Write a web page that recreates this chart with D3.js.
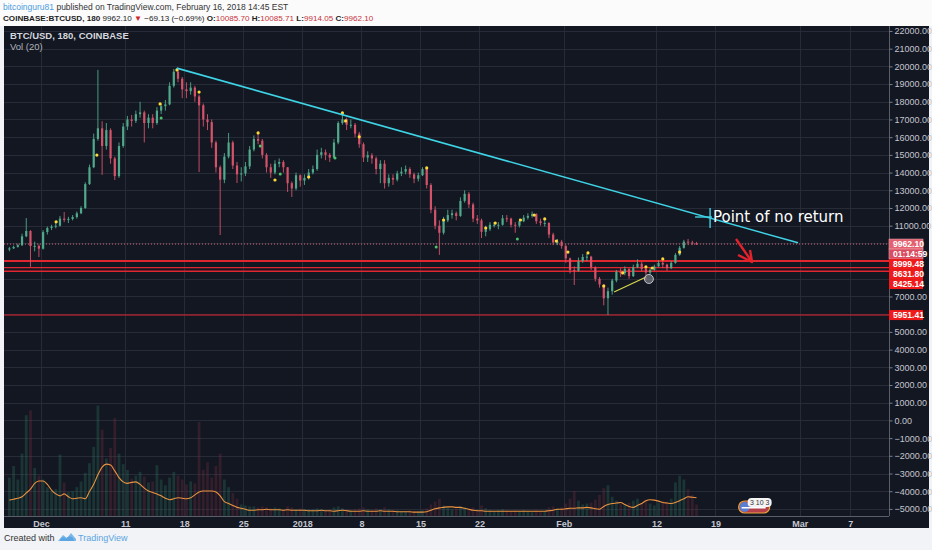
<!DOCTYPE html>
<html>
<head>
<meta charset="utf-8">
<script src="https://cdn.jsdelivr.net/npm/d3@7"></script>
<style>
body { margin:0; background:#f1f3f6; }
svg { display:block; font-family:"Liberation Sans", Arial, sans-serif; }
</style>
</head>
<body>
<svg class="chart"></svg>
<script>
// 12h bars: [high, low, close], open = previous close
var candleStart = "2017-11-27T00:00:00Z";
var firstOpen = 9650;
var candles = [
[9800,9550,9720],[9870,9680,9800],[9980,9760,9900],[10550,9850,10400],
[11430,10350,10700],[10750,8670,9850],[10100,9550,9860],[9950,9230,9700],
[10750,9650,10640],[10950,10500,10870],[11050,10750,10950],[11150,10850,11000],
[11550,10950,11400],[11770,11200,11330],[11500,11150,11380],[11600,11300,11490],
[11800,11400,11700],[12100,11650,12000],[13450,11950,13350],[14450,13300,14300],
[16200,14250,15900],[19800,15800,16500],[16900,13870,15500],[16800,15300,16400],
[16500,14500,14800],[14900,13580,13800],[15700,13700,15500],[16800,15400,16600],
[17200,16400,17000],[17250,16600,16920],[17500,16800,17300],[18000,17100,17400],
[17500,15700,16800],[17300,16500,17100],[17300,16500,16800],[17700,16700,17500],
[17900,17300,17750],[18100,17500,17850],[19100,17800,18900],[19850,18800,19700],
[19900,19100,19300],[19400,18200,18700],[19100,18200,18600],[19100,18400,18800],
[18900,18000,18300],[18400,14030,17800],[17900,16600,17000],[17300,16400,16850],
[17000,15400,15700],[15800,14000,14300],[14400,10475,13600],[15100,13400,14900],
[16240,14800,15700],[15800,14200,14400],[14600,13410,13900],[14300,13500,13950],
[14600,13800,14350],[15500,14200,15300],[16100,15200,15900],[16290,15600,15800],
[15900,14800,15000],[15100,14000,14300],[14500,13700,14000],[14700,13900,14500],
[14800,14300,14600],[14700,14000,14300],[14300,12900,13400],[13500,12620,13100],
[14000,13000,13850],[13900,13200,13550],[13900,13300,13700],[14200,13600,14000],
[14400,13900,14200],[15300,14100,15000],[15400,14800,15150],[15300,14700,15000],
[15100,14600,14850],[15900,14800,15700],[16900,15600,16800],[17250,16700,17000],
[17100,16400,16700],[17000,16500,16700],[16800,16000,16200],[16300,15400,15600],
[15700,14600,14850],[15200,14600,14980],[15100,14500,14800],[14900,13900,14200],
[14700,13400,14500],[14700,13100,13400],[13900,13200,13700],[13900,13300,13600],
[14100,13500,13950],[14300,13800,14050],[14400,13900,14200],[14300,13700,13900],
[14000,13400,13650],[14000,13500,13850],[14300,13800,14200],[14250,13100,13300],
[13400,11700,11900],[12100,10800,11000],[11300,9350,10600],[11500,10500,11300],
[11900,11200,11600],[11900,11400,11700],[11800,11300,11550],[12600,11500,12400],
[13000,12300,12800],[12900,12000,12200],[12300,11200,11400],[11600,11100,11300],
[11400,10300,10650],[11000,10400,10800],[11200,10700,11050],[11200,10900,11050],
[11200,10800,11050],[11600,11000,11420],[11600,11200,11400],[11450,10900,11050],
[11200,10600,11000],[11400,10900,11250],[11600,11200,11450],[11700,11350,11550],
[11800,11450,11650],[11700,11100,11250],[11400,11000,11150],[11350,10950,11150],
[11200,10300,10500],[10600,9900,10050],[10250,9900,10100],[10200,9700,9850],
[9950,8900,9150],[9200,8300,8500],[8700,7650,8450],[9200,8400,9000],
[9400,8900,9230],[9400,9000,9250],[9300,8500,8650],[8700,7850,8000],
[8100,7500,7680],[7700,6500,6900],[7500,5960,7300],[8000,7100,7900],
[8500,7800,8400],[8600,8100,8320],[8700,8200,8550],[8600,8000,8150],
[8800,8100,8650],[9100,8600,8850],[8950,8400,8550],[8600,7900,8350],
[8600,8250,8500],[8800,8450,8700],[9050,8650,8900],[9000,8600,8800],
[8850,8450,8600],[9000,8550,8900],[9450,8850,9350],[9850,9300,9750],
[10200,9700,10100],[10250,9900,10050],[10150,9900,10000],[10085.71,9914.05,9962.10]
];

var volumes = [
4000,5200,3800,6500,10500,11000,5000,4200,
3800,3000,2600,2800,6400,3500,2500,2600,
3000,3600,4500,5500,7200,11500,9000,6000,
7100,10200,6500,5400,4800,3900,4200,4600,
4100,3500,3600,5300,3800,3200,4000,4600,
4200,3800,3300,3600,3400,9800,4800,5600,
4000,5200,6500,3800,3000,2400,1800,1200,
1100,1000,1000,900,1000,900,800,900,
800,700,1000,900,700,800,700,700,
700,800,700,600,700,900,1000,800,
700,600,700,800,900,700,600,800,
700,900,700,600,600,500,500,600,
500,500,600,800,1200,1500,1800,1100,
900,700,800,1000,900,800,900,700,
1100,800,600,500,600,700,600,500,
600,500,600,500,400,600,500,500,
900,1000,800,900,1300,1800,2600,1600,
1200,1300,1400,1700,2200,2900,3200,2000,
1600,1300,1200,1400,1600,1800,1300,1700,
1300,1100,1400,1600,1500,1800,3500,4200,
3800,2800,2200,1200
];

var volMA = [
1650,1750,1850,2000,2400,2800,3400,3650,
3650,3300,2700,2300,2100,2300,2000,1800,
1850,1900,1800,2550,3300,4300,5100,5400,
5300,4700,4000,3550,3400,3500,3550,3300,
2900,2600,2450,2300,2100,1850,1700,1800,
1900,1850,1800,1900,2200,2500,2600,2600,
2600,2500,2100,1500,1300,1100,900,800,
700,600,600,650,650,700,650,650,
650,600,650,600,600,600,600,550,
550,550,600,550,550,500,550,600,
550,500,500,500,550,500,500,500,
550,500,500,500,450,450,450,450,
400,400,400,450,600,750,850,900,
950,950,900,900,800,700,600,550,
550,500,500,500,500,500,500,500,
500,500,500,500,500,500,500,500,
550,600,700,700,750,800,800,850,
850,900,850,750,700,1000,1200,1300,
1350,1400,1200,1000,900,1100,1300,1600,
1700,1650,1550,1400,1350,1300,1400,1600,
1800,2000,1950,1900
];

var priceTicks = [22000,21000,20000,19000,18000,17000,16000,15000,14000,13000,12000,11000,
    10000,9000,8000,7000,6000,5000,4000,3000,2000,1000,0,-1000,-2000,-3000,-4000,-5000];
var hiddenTicks = [10000,9000,8000,6000];
var dateTicks = [
    ["2017-12-01","Dec"],["2017-12-11","11"],["2017-12-18","18"],["2017-12-25","25"],
    ["2018-01-01","2018"],["2018-01-08","8"],["2018-01-15","15"],["2018-01-22","22"],
    ["2018-02-01","Feb"],["2018-02-12","12"],["2018-02-19","19"],["2018-03-01","Mar"],["2018-03-07","7"]
];

var lastPrice = 9962.10;
var countdown = "01:14:59";
var levels = [8999.48, 8631.80, 8425.14, 5951.41];
var levelWidths = [2, 1.4, 1.4, 1.1];

var trendLine = [["2017-12-17T02:30:00Z",19900],["2018-02-28T19:00:00Z",10030]];
var crossV = [["2018-02-18T08:40:00Z",12000],["2018-02-18T08:40:00Z",10870]];
var crossH = [["2018-02-16T14:00:00Z",11490],["2018-02-18T14:00:00Z",11490]];
var noteAt = ["2018-02-18T16:50:00Z",11210];
var noteText = "Point of no return";
var arrowLine = [["2018-02-21T10:30:00Z",10250],["2018-02-23T08:10:00Z",8950]];
var arrowHead = [["2018-02-21T16:20:00Z",9345],["2018-02-23T08:10:00Z",8950],["2018-02-23T02:20:00Z",9630]];
var riseLine = [["2018-02-06T23:20:00Z",7254],["2018-02-10T18:30:00Z",8102]];
var circleAt = ["2018-02-11T02:30:00Z",7990];
var eventAt = "2018-02-21T18:00:00Z";

var yellowDots = [
    ["2017-12-02T19:00",11220],["2017-12-07T15:00",14990],["2017-12-15T03:00",17880],["2017-12-17T03:00",19800],
    ["2017-12-19T18:00",18550],["2017-12-26T18:00",16240],["2017-12-28T18:00",13580],["2018-01-01T18:00",13750],
    ["2018-01-05T18:00",17370],["2018-01-06T03:00",16920],["2018-01-07T18:00",16020],["2018-01-15T18:00",14260],
    ["2018-01-17T18:00",11320],["2018-01-22T18:00",10870],["2018-01-23T21:00",11150],["2018-01-26T21:00",11320],
    ["2018-01-28T12:00",11600],["2018-01-29T18:00",11380],["2018-01-31T03:00",10130],["2018-02-01T12:00",9510],
    ["2018-02-03T21:00",9460],["2018-02-05T18:00",7590],["2018-02-08T00:00",8330],["2018-02-10T18:00",8670],
    ["2018-02-11T12:00",8610],["2018-02-12T18:00",9120],["2018-02-14T18:00",9510]
];
var greenDots = [
    ["2017-12-15T06:00",17080],["2017-12-27T00:00",15500],["2017-12-29T09:00",13920],
    ["2018-01-04T21:00",14820],["2018-01-16T21:00",9800],["2018-01-26T12:00",10250]
];

var makeTranslateString = function(x,y)
{
    return "translate("+x+","+y+")";
}

var toDate = function(s)
{
    return new Date(s.length<=16 && s.indexOf("Z")<0 ? s+(s.length==10?"T00:00:00Z":":00Z") : s);
}

var screen = {width:932,height:550};
var plot = {left:4,top:26,right:889,bottom:516};
var panel = {left:4,top:26,right:929,bottom:528};

var xScale = d3.scaleUtc()
    .domain([toDate("2017-11-26T17:30"), toDate("2018-03-11T14:00")])
    .range([5,889]);
var yScale = d3.scaleLinear()
    .domain([-5400,22280])
    .range([plot.bottom,plot.top]);
var volScale = d3.scaleLinear()
    .domain([0,10000])
    .range([plot.bottom,plot.bottom-96]);

var candleTime = function(i)
{
    return d3.utcHour.offset(toDate(candleStart), 12*i+6);
}

var svg = d3.select(".chart")
    .attr("width",screen.width)
    .attr("height",screen.height);

var drawFrame = function()
{
    svg.append("rect").attr("x",0).attr("y",0).attr("width",screen.width).attr("height",26).attr("fill","#fbfbfc");
    svg.append("rect")
        .attr("x",panel.left).attr("y",panel.top)
        .attr("width",panel.right-panel.left).attr("height",panel.bottom-panel.top)
        .attr("fill","#131722");

    svg.append("clipPath").attr("id","plotclip")
        .append("rect")
        .attr("x",plot.left).attr("y",plot.top)
        .attr("width",plot.right-plot.left).attr("height",plot.bottom-plot.top);

    var grid = svg.append("g").classed("grid",true)
        .attr("stroke","#262b37").attr("stroke-width",1);
    grid.selectAll("line.h")
        .data(priceTicks)
        .enter().append("line").classed("h",true)
        .attr("x1",plot.left).attr("x2",plot.right)
        .attr("y1",function(d){return Math.round(yScale(d))+0.5;})
        .attr("y2",function(d){return Math.round(yScale(d))+0.5;});
    grid.selectAll("line.v")
        .data(dateTicks)
        .enter().append("line").classed("v",true)
        .attr("y1",plot.top).attr("y2",plot.bottom)
        .attr("x1",function(d){return Math.round(xScale(toDate(d[0])))+0.5;})
        .attr("x2",function(d){return Math.round(xScale(toDate(d[0])))+0.5;});
}

var drawVolume = function(target)
{
    var bars = candles.map(function(c,i){
        var open = i==0 ? firstOpen : candles[i-1][2];
        return {t:candleTime(i), v:volumes[i], up:c[2]>=open};
    });
    target.append("g")
        .selectAll("rect")
        .data(bars)
        .enter().append("rect")
        .attr("x",function(d){return xScale(d.t)-1.4;})
        .attr("width",2.8)
        .attr("y",function(d){return volScale(d.v);})
        .attr("height",function(d){return plot.bottom-volScale(d.v);})
        .attr("fill",function(d){return d.up ? "#2f7a62" : "#7d2f43";})
        .attr("opacity",0.3);

    var maLine = d3.line()
        .x(function(d,i){return xScale(candleTime(i));})
        .y(function(d){return volScale(d);})
        .curve(d3.curveMonotoneX);
    target.append("path")
        .datum(volMA)
        .attr("d",maLine)
        .attr("fill","none")
        .attr("stroke","#e9923f")
        .attr("stroke-width",1.1);
}

var drawCandles = function(target)
{
    var bars = candles.map(function(c,i){
        var open = i==0 ? firstOpen : candles[i-1][2];
        return {t:candleTime(i), o:open, h:c[0], l:c[1], c:c[2]};
    });
    var g = target.append("g").classed("candles",true);
    var color = function(d){return d.c>=d.o ? "#4fa98a" : "#d4536a";};
    g.selectAll("line")
        .data(bars)
        .enter().append("line")
        .attr("x1",function(d){return xScale(d.t);})
        .attr("x2",function(d){return xScale(d.t);})
        .attr("y1",function(d){return yScale(d.h);})
        .attr("y2",function(d){return yScale(d.l);})
        .attr("stroke",color)
        .attr("stroke-width",0.9);
    g.selectAll("rect")
        .data(bars)
        .enter().append("rect")
        .attr("x",function(d){return xScale(d.t)-1.1;})
        .attr("width",2.2)
        .attr("y",function(d){return yScale(Math.max(d.o,d.c));})
        .attr("height",function(d){return Math.max(1,Math.abs(yScale(d.o)-yScale(d.c)));})
        .attr("fill",color);
}

var drawLevels = function(target)
{
    target.append("line")
        .attr("x1",plot.left).attr("x2",plot.right)
        .attr("y1",yScale(lastPrice)).attr("y2",yScale(lastPrice))
        .attr("stroke","#d9697a").attr("stroke-width",1)
        .attr("stroke-dasharray","1,2");
    target.selectAll("line.level")
        .data(levels)
        .enter().append("line").classed("level",true)
        .attr("x1",plot.left).attr("x2",plot.right)
        .attr("y1",function(d){return yScale(d);})
        .attr("y2",function(d){return yScale(d);})
        .attr("stroke","#e0262e")
        .attr("stroke-width",function(d,i){return levelWidths[i];});
}

var drawMarks = function(target)
{
    var pt = function(d){return [xScale(toDate(d[0])), yScale(d[1])];};
    var line = d3.line().x(function(d){return pt(d)[0];}).y(function(d){return pt(d)[1];});

    target.selectAll("circle.gdot")
        .data(greenDots)
        .enter().append("circle").classed("gdot",true)
        .attr("cx",function(d){return pt(d)[0];})
        .attr("cy",function(d){return pt(d)[1];})
        .attr("r",1.5).attr("fill","#4cc36a");
    target.selectAll("circle.ydot")
        .data(yellowDots)
        .enter().append("circle").classed("ydot",true)
        .attr("cx",function(d){return pt(d)[0];})
        .attr("cy",function(d){return pt(d)[1];})
        .attr("r",1.6).attr("fill","#ffd93a");

    target.append("path").attr("d",line(trendLine))
        .attr("stroke","#3fd3e6").attr("stroke-width",1.6).attr("fill","none");
    target.append("path").attr("d",line(crossV))
        .attr("stroke","#3fd3e6").attr("stroke-width",1.4).attr("fill","none");
    target.append("path").attr("d",line(crossH))
        .attr("stroke","#3fd3e6").attr("stroke-width",1.4).attr("fill","none");

    target.append("text")
        .text(noteText)
        .attr("x",pt(noteAt)[0]).attr("y",pt(noteAt)[1])
        .attr("fill","#ffffff")
        .attr("font-family","'DejaVu Sans', Verdana, sans-serif")
        .attr("font-size",15);

    target.append("path").attr("d",line(arrowLine))
        .attr("stroke","#e3232b").attr("stroke-width",2.4).attr("fill","none");
    target.append("path").attr("d",line(arrowHead))
        .attr("stroke","#e3232b").attr("stroke-width",2.4).attr("fill","none")
        .attr("stroke-linejoin","round");

    target.append("path").attr("d",line(riseLine))
        .attr("stroke","#d8d84a").attr("stroke-width",1.2).attr("fill","none");
    target.append("circle")
        .attr("cx",pt(circleAt)[0]).attr("cy",pt(circleAt)[1])
        .attr("r",4.5)
        .attr("fill","#8a8d96").attr("fill-opacity",0.6)
        .attr("stroke","#c2c4ca").attr("stroke-width",1);

    // economic event badge in the volume pane
    var ex = xScale(toDate(eventAt));
    var badge = target.append("g").attr("transform",makeTranslateString(ex,501));
    badge.append("rect").attr("x",0).attr("y",0).attr("width",31).attr("height",12).attr("rx",6)
        .attr("fill","#b6404a").attr("stroke","#e8a23a").attr("stroke-width",1.2);
    badge.append("circle").attr("cx",6).attr("cy",6).attr("r",5).attr("fill","#5b7fd0");
    badge.append("rect").attr("x",3).attr("y",6).attr("width",24).attr("height",1.5).attr("fill","#ffffff");
    badge.append("rect").attr("x",9).attr("y",-3).attr("width",24).attr("height",9).attr("rx",4)
        .attr("fill","#f4f4f4");
    badge.append("text").text("3 10 3").attr("x",21).attr("y",4).attr("text-anchor","middle")
        .attr("font-size",7).attr("fill","#333");
}

var drawAxes = function()
{
    var shown = priceTicks.filter(function(d){return hiddenTicks.indexOf(d)<0;});
    var yAxis = d3.axisRight(yScale)
        .tickValues(shown)
        .tickFormat(d3.format(".2f"))
        .tickSize(3)
        .tickPadding(2);
    var ya = svg.append("g")
        .classed("axis",true)
        .attr("transform",makeTranslateString(plot.right+0.5,0))
        .call(yAxis);
    ya.select(".domain").attr("stroke","#5a5e69").attr("d","M0,"+plot.top+"V"+plot.bottom);
    ya.selectAll(".tick line").attr("stroke","#7b7f8a");
    ya.selectAll(".tick text").attr("fill","#c3c6ce").attr("font-size",9)
        .attr("font-family","'Liberation Sans', Arial, sans-serif");

    var xAxis = d3.axisBottom(xScale)
        .tickValues(dateTicks.map(function(d){return toDate(d[0]);}))
        .tickFormat(function(d,i){return dateTicks[i][1];})
        .tickSize(0)
        .tickPadding(4);
    var xa = svg.append("g")
        .classed("axis",true)
        .attr("transform",makeTranslateString(0,plot.bottom+0.5))
        .call(xAxis);
    xa.select(".domain").attr("stroke","#5a5e69").attr("d","M"+plot.left+",0H"+plot.right);
    xa.selectAll(".tick text").attr("fill","#c3c6ce").attr("font-size",9).attr("font-weight","bold")
        .attr("font-family","'Liberation Sans', Arial, sans-serif");
}

var drawPriceLabels = function()
{
    var tags = [{text:d3.format(".2f")(lastPrice), y:yScale(lastPrice), fill:"#e4606f"},
                {text:countdown, y:yScale(lastPrice), fill:"#d94d61"}];
    levels.forEach(function(d){ tags.push({text:d3.format(".2f")(d), y:yScale(d), fill:"#f01a1a"}); });
    // push tags down so they do not overlap
    for (var i=1;i<tags.length;i++)
    {
        if (tags[i].y < tags[i-1].y+10) { tags[i].y = tags[i-1].y+10; }
    }
    var g = svg.append("g").classed("tags",true);
    var tag = g.selectAll("g").data(tags).enter().append("g")
        .attr("transform",function(d){return makeTranslateString(plot.right,d.y);});
    tag.append("rect")
        .attr("x",0).attr("y",-5).attr("width",34).attr("height",10)
        .attr("fill",function(d){return d.fill;})
        .attr("stroke",function(d,i){return i<2 ? "#f2a3ad" : "none";})
        .attr("stroke-width",0.6);
    tag.append("text")
        .text(function(d){return d.text;})
        .attr("x",4).attr("y",3.3)
        .attr("fill","#ffffff").attr("font-size",8.6).attr("font-weight","bold");
}

var drawLabels = function()
{
    var header = svg.append("g").classed("labels",true);
    var l1 = header.append("text").attr("x",3).attr("y",10).attr("font-size",8.5);
    l1.append("tspan").text("bitcoinguru81").attr("fill","#4d9de0");
    l1.append("tspan").text(" published on TradingView.com, February 16, 2018 14:45 EST").attr("fill","#333");

    var l2 = header.append("text").attr("x",3).attr("y",20.5).attr("fill","#222").attr("font-size",8.1);
    l2.append("tspan").text("COINBASE:BTCUSD, 180").attr("font-weight","bold");
    l2.append("tspan").text(" 9962.10 ");
    l2.append("tspan").text("▼").attr("fill","#d2232a");
    l2.append("tspan").text(" −69.13 (−0.69%) ");
    l2.append("tspan").text("O:").attr("font-weight","bold");
    l2.append("tspan").text("10085.70 ").attr("fill","#c8323a");
    l2.append("tspan").text("H:").attr("font-weight","bold");
    l2.append("tspan").text("10085.71 ").attr("fill","#c8323a");
    l2.append("tspan").text("L:").attr("font-weight","bold");
    l2.append("tspan").text("9914.05 ").attr("fill","#c8323a");
    l2.append("tspan").text("C:").attr("font-weight","bold");
    l2.append("tspan").text("9962.10").attr("fill","#c8323a");

    svg.append("text").text("BTC/USD, 180, COINBASE")
        .attr("x",10).attr("y",39).attr("fill","#d5d7de")
        .attr("font-size",9.5).attr("font-weight","bold");
    svg.append("text").text("Vol (20)")
        .attr("x",10).attr("y",50).attr("fill","#b0b3bb")
        .attr("font-size",9.5);

    var foot = svg.append("g").attr("font-size",9);
    foot.append("text").text("Created with").attr("x",4).attr("y",541).attr("fill","#333");
    var logo = foot.append("g").attr("transform",makeTranslateString(58,533));
    logo.append("path")
        .attr("d","M0,8 L5,2 L9,5 L13,0 L18,6 L18,8 Z")
        .attr("fill","#7db8ea");
    logo.append("path")
        .attr("d","M2,8 C2,4 7,3 8,6 C10,2 16,3 16,8 Z")
        .attr("fill","#5ba5e3");
    foot.append("text").text("TradingView").attr("x",78).attr("y",541).attr("fill","#5ba5e3");
}

drawFrame();
var plotArea = svg.append("g").attr("clip-path","url(#plotclip)");
drawVolume(plotArea);
drawLevels(plotArea);
drawCandles(plotArea);
drawMarks(plotArea);
drawAxes();
drawPriceLabels();
drawLabels();
</script>
</body>
</html>
